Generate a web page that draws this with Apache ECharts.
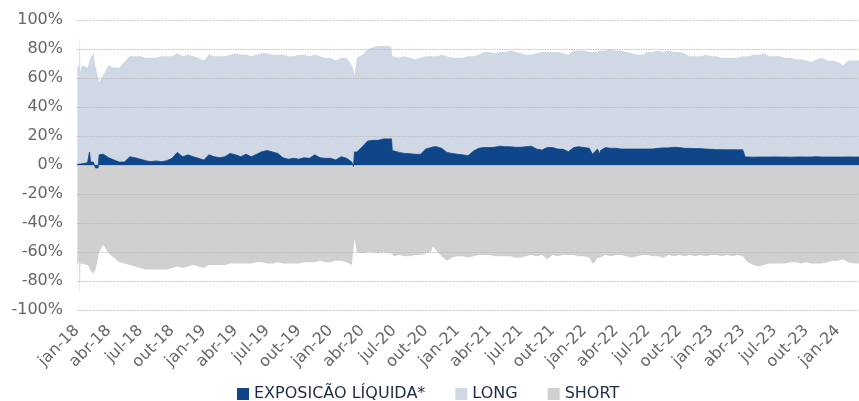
<!DOCTYPE html>
<html>
<head>
<meta charset="utf-8">
<script src="https://cdn.jsdelivr.net/npm/echarts@6/dist/echarts.min.js"></script>
<style>
html,body{margin:0;padding:0;background:#fff;}
#chart{width:859px;height:401px;}
</style>
</head>
<body>
<div id="chart"></div>
<script>
// Dates of the readings
const dates = [
'2018-01-02','2018-01-07','2018-01-09','2018-01-11','2018-01-16','2018-02-01','2018-02-05','2018-02-06','2018-02-08','2018-02-09',
'2018-02-16','2018-02-22','2018-03-01','2018-03-04','2018-03-16','2018-04-01','2018-04-16','2018-05-01','2018-05-16','2018-06-01',
'2018-06-16','2018-07-01','2018-07-16','2018-08-01','2018-08-16','2018-09-01','2018-09-16','2018-10-01','2018-10-16','2018-11-01',
'2018-11-16','2018-12-01','2018-12-16',
'2019-01-01','2019-01-16','2019-02-01','2019-02-16','2019-03-01','2019-03-16','2019-04-01','2019-04-16','2019-05-01','2019-05-16',
'2019-06-01','2019-06-16','2019-07-01','2019-07-16','2019-08-01','2019-08-16','2019-09-01','2019-09-16','2019-10-01','2019-10-16',
'2019-11-01','2019-11-16','2019-12-01','2019-12-16',
'2020-01-01','2020-01-16','2020-02-01','2020-02-16','2020-03-01','2020-03-06','2020-03-09','2020-03-16','2020-04-01','2020-04-16',
'2020-05-01','2020-05-16','2020-06-01','2020-06-16','2020-06-24','2020-06-26','2020-07-01','2020-07-16','2020-08-01','2020-08-16',
'2020-09-01','2020-09-16','2020-10-01','2020-10-16','2020-10-22','2020-11-01','2020-11-16','2020-12-01','2020-12-16',
'2021-01-01','2021-01-16','2021-02-01','2021-02-16','2021-03-01','2021-03-16','2021-04-01','2021-04-16','2021-05-01','2021-05-16',
'2021-06-01','2021-06-16','2021-07-01','2021-07-16','2021-08-01','2021-08-16','2021-09-01','2021-09-16','2021-10-01','2021-10-16',
'2021-11-01','2021-11-16','2021-12-01','2021-12-16',
'2022-01-01','2022-01-16','2022-01-25','2022-02-01','2022-02-08','2022-02-14','2022-02-16','2022-03-01','2022-03-16','2022-04-01',
'2022-04-16','2022-05-01','2022-05-16','2022-06-01','2022-06-16','2022-07-01','2022-07-16','2022-08-01','2022-08-16','2022-09-01',
'2022-09-16','2022-10-01','2022-10-16','2022-11-01','2022-11-16','2022-12-01','2022-12-16',
'2023-01-01','2023-01-16','2023-02-01','2023-02-16','2023-03-01','2023-03-16','2023-04-01','2023-04-06','2023-04-08','2023-04-16',
'2023-05-01','2023-05-16','2023-06-01','2023-06-16','2023-07-01','2023-07-16','2023-08-01','2023-08-16','2023-09-01','2023-09-16',
'2023-10-01','2023-10-16','2023-11-01','2023-11-16','2023-12-01','2023-12-16',
'2024-01-01','2024-01-16','2024-02-01','2024-02-16','2024-03-01'
];

// LONG (%)
const longVals = [
69,67,90,64,69,67,70,72,73,74,
77,68,60,57,62,69,67,67,71,75,
75,75,74,74,74,75,75,75,77,75,
76,75,74,
72,76,75,75,75,76,77,76,76,75,
76,77,77,76,76,76,75,75,76,76,
75,76,75,74,
74,72,74,74,69,66,62,74,76,80,
81,82,82,82,81,75,75,74,75,74,
73,74,75,75,75,75,76,75,74,
74,74,75,75,76,78,78,77,78,78,
79,78,77,76,76,77,78,78,78,78,
77,76,79,79,
79,78,78,78,78,79,79,79,80,79,
79,78,77,76,76,78,78,79,78,79,
78,78,77,75,75,75,76,
75,75,74,74,74,74,75,75,75,75,
76,76,77,75,75,75,74,74,73,73,
72,71,73,74,72,72,
71,69,72,72,72
];

// SHORT (%)
const shortVals = [
-70,-66,-91,-68,-68,-69,-70,-71,-72,-73,
-75,-72,-64,-60,-55,-61,-64,-67,-68,-69,
-70,-71,-72,-72,-72,-72,-72,-71,-70,-71,
-70,-69,-70,
-71,-69,-69,-69,-69,-68,-68,-68,-68,-68,
-67,-67,-68,-68,-67,-68,-68,-68,-68,-67,
-67,-67,-66,-67,
-67,-66,-66,-67,-69,-70,-51,-60,-61,-60,
-60,-61,-60,-61,-61,-62,-63,-62,-63,-63,
-62,-62,-61,-60,-56,-59,-63,-66,-64,
-63,-63,-64,-63,-62,-62,-62,-63,-63,-63,
-63,-64,-64,-63,-62,-63,-62,-65,-62,-63,
-62,-62,-62,-63,
-63,-64,-68,-67,-64,-64,-63,-62,-63,-62,
-62,-63,-64,-63,-62,-62,-63,-63,-64,-62,
-63,-62,-63,-62,-63,-62,-63,
-62,-62,-63,-62,-63,-62,-63,-64,-65,-67,
-69,-70,-69,-68,-68,-68,-68,-67,-67,-68,
-67,-68,-68,-68,-67,-66,
-66,-65,-67,-68,-68
];

// EXPOSIÇÃO LÍQUIDA (%)
const netVals = [
0.5,0.5,0.5,0.7,1,1.5,1.5,9,9,2,
2,-2,-2,7,7.5,5,3.5,2,2,5.7,
5,4,3,2.3,2.8,2.3,3,4.6,8.7,5.7,
7,5.7,4.6,
3.5,7,5.7,5,5.7,8,7,5.7,7.4,5.7,
7.4,9.2,10,9,8,5,4,4.6,4,5,
4.6,7,5,4.6,
4.6,3.5,5.7,4.6,2,-1,9,9,12.6,16.5,
17,17,18,18,18,10,9,8.7,8,7.8,
7.4,7.4,11,12,12.5,12.6,11.5,8.7,8,
7.4,7,6.4,9.7,11.5,12,12,12.2,13,12.6,
12.6,12.2,12.2,12.6,13,11,10.3,12,12,11,
10.8,9.2,12,12.6,
12,11.5,7.4,9.2,11,7.4,10,12,11.5,11.5,
11,11,11,11,11,11,11,11.5,11.8,11.8,
12.2,12,11.5,11.5,11.3,11.3,11,
10.8,10.6,10.6,10.5,10.5,10.5,10.5,10.5,5.5,5.5,
5.4,5.5,5.5,5.5,5.6,5.5,5.5,5.4,5.5,5.6,
5.5,5.5,5.7,5.5,5.5,5.5,
5.5,5.5,5.6,5.5,5.5
];

// Axis ticks
const yTicks = [-100,-80,-60,-40,-20,0,20,40,60,80,100];
const quarterNames = ['jan','abr','jul','out'];
const startYear = 2018;

function toMonthIndex(s){
  const [y,m,d] = s.split('-').map(Number);
  const dim = new Date(y, m, 0).getDate();
  return (y - startYear) * 12 + (m - 1) + (d - 1) / dim;
}
const xs = dates.map(toMonthIndex);
const pairs = arr => arr.map((v,i)=>[xs[i], v]);
const lastX = xs[xs.length-1];

const FONT = 'DejaVu Sans';
const chart = echarts.init(document.getElementById('chart'), null, {renderer:'canvas'});
chart.setOption({
  animation:false,
  backgroundColor:'#ffffff',
  textStyle:{fontFamily:FONT},
  grid:{left:77,right:0,top:20,bottom:91,containLabel:false},
  legend:{
    data:['EXPOSICÃO LÍQUIDA*','LONG','SHORT'],
    left:232, top:381,
    icon:'rect', itemWidth:12, itemHeight:12, itemGap:30,
    textStyle:{fontFamily:FONT,fontSize:16,color:'#1f2b46'}
  },
  xAxis:{
    type:'value', min:0, max:lastX, interval:3,
    axisLine:{show:false}, axisTick:{show:false}, splitLine:{show:false},
    axisLabel:{
      rotate:45, margin:18, fontSize:16, color:'#666666', fontFamily:FONT,
      showMaxLabel:false,
      formatter:function(v){
        const r = Math.round(v);
        if (Math.abs(v-r) > 1e-6 || r % 3 !== 0) return '';
        const y = startYear + Math.floor(r/12);
        return quarterNames[(r % 12)/3] + '-' + String(y).slice(2);
      }
    }
  },
  yAxis:{
    type:'value', min:-100, max:100, interval:20,
    axisLine:{show:false}, axisTick:{show:false},
    axisLabel:{formatter:'{value}%', fontSize:16, color:'#666666', margin:14, fontFamily:FONT},
    splitLine:{show:false}
  },
  series:[
    {
      name:'LONG', type:'line', data:pairs(longVals), showSymbol:false, symbol:'none',
      lineStyle:{width:0}, itemStyle:{color:'#cfd8e4'},
      areaStyle:{color:'#cfd8e4', opacity:1}, z:1
    },
    {
      name:'SHORT', type:'line', data:pairs(shortVals), showSymbol:false, symbol:'none',
      lineStyle:{width:0}, itemStyle:{color:'#d0d0d0'},
      areaStyle:{color:'#d0d0d0', opacity:1}, z:2,
      markLine:{silent:true, symbol:['none','none'], label:{show:false}, z:5,
        lineStyle:{color:'#b8b8b8', width:1.2, type:'dotted', opacity:1},
        emphasis:{disabled:true},
        data:yTicks.filter(v=>v!==0).map(v=>({yAxis:v}))}
    },
    {
      name:'EXPOSICÃO LÍQUIDA*', type:'line', data:pairs(netVals), showSymbol:false, symbol:'none',
      lineStyle:{width:0.8, color:'#0f4689'}, itemStyle:{color:'#0f4689'},
      areaStyle:{color:'#0f4689', opacity:1}, z:6,
      markLine:{silent:true, symbol:['none','none'], label:{show:false},
        lineStyle:{color:'#aebbd0', width:1.5, type:'solid'},
        data:[{yAxis:0}]}
    }
  ]
});
</script>
</body>
</html>
